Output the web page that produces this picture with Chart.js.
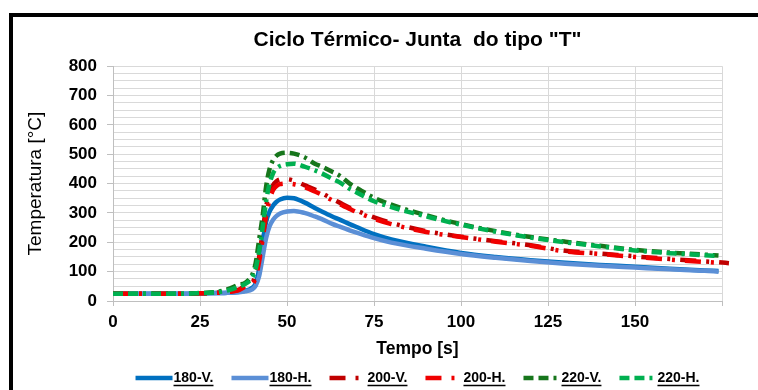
<!DOCTYPE html>
<html>
<head>
<meta charset="utf-8">
<title>Ciclo Térmico - Junta do tipo T</title>
<script src="https://cdn.jsdelivr.net/npm/chart.js@4.4.1/dist/chart.umd.min.js"></script>
<style>
    body { margin: 0; background: #fff; overflow: hidden; }
    .moldura { position: absolute; left: 9px; top: 13px; width: 820px; height: 440px; border: 4px solid #000; box-sizing: border-box; }
    .grafico { position: absolute; left: 0; top: 0; width: 758px; height: 390px; }
</style>
</head>
<body>
<div class="moldura"></div>
<div class="grafico"><canvas id="cicloTermicoChart"></canvas></div>
<script>
// tempo [s] e temperatura [°C] de cada termopar
var tempo = [0, 5, 10, 15, 20, 25, 30, 33, 36, 38, 40, 41, 42, 43, 44, 45, 46, 47, 48, 50,
    52, 55, 58, 60, 63, 65, 68, 70, 75, 80, 90, 100, 110, 120, 130, 140, 150, 160, 170, 174, 177];

var t180V = [25, 25, 25, 25, 25, 26, 27, 28, 31, 35, 45, 60, 110, 200, 270, 305, 325, 338, 346, 352,
    350, 336, 317, 305, 288, 278, 262, 252, 228, 210, 185, 164, 150, 139, 130, 123, 117, 110, 104, 102, null];
var t180H = [25, 25, 25, 25, 25, 26, 27, 28, 30, 33, 40, 52, 85, 150, 215, 255, 277, 290, 298, 305,
    307, 300, 288, 279, 263, 254, 241, 233, 214, 199, 178, 160, 147, 136, 127, 120, 114, 108, 103, 100, null];
var t200V = [25, 25, 25, 25, 25, 26, 28, 31, 38, 52, 62, 90, 150, 235, 320, 370, 395, 408, 414, 415,
    410, 395, 380, 368, 348, 336, 318, 308, 285, 266, 238, 219, 204, 190, 171, 162, 152, 143, 135, 132, 129];
var t200H = [25, 25, 25, 25, 25, 26, 28, 31, 36, 48, 56, 80, 135, 210, 290, 345, 378, 392, 398, 400,
    398, 388, 373, 362, 343, 331, 314, 303, 280, 262, 235, 218, 202, 188, 169, 160, 150, 141, 133, 130, null];
var t220V = [25, 25, 25, 25, 25, 27, 31, 40, 55, 62, 90, 130, 210, 290, 390, 450, 480, 495, 502, 505,
    502, 490, 468, 458, 440, 428, 400, 385, 352, 328, 292, 262, 238, 218, 202, 188, 174, 165, 158, 155, null];
var t220H = [25, 25, 25, 25, 25, 27, 30, 36, 48, 58, 80, 110, 170, 250, 340, 400, 435, 452, 460, 466,
    468, 458, 445, 435, 416, 405, 382, 370, 340, 320, 288, 260, 236, 216, 200, 186, 172, 163, 156, 153, null];

var fonte = "'Liberation Sans', Arial, sans-serif";
var traco200 = [16, 10, 3, 10];
var traco220 = [10, 5, 10, 5, 3, 5];
var larguraAmostra = 31;

function serie(nome, valores, cor, traco, ordem) {
    return {
        label: nome,
        data: tempo.map(function (t, i) { return { x: t, y: valores[i] }; }),
        borderColor: cor,
        backgroundColor: cor,
        borderWidth: 4.5,
        borderDash: traco,
        borderCapStyle: 'butt',
        pointRadius: 0,
        cubicInterpolationMode: 'monotone',
        order: ordem,
        clip: false
    };
}

// amostra tracejada de cada serie e texto sublinhado na legenda
var amostraLegenda = {
    id: 'amostraLegenda',
    afterDraw: function (chart) {
        var legenda = chart.legend;
        if (!legenda || !legenda.legendHitBoxes) return;
        var tam = legenda.options.labels.font.size;
        var ctx = chart.ctx;
        ctx.save();
        ctx.font = 'bold ' + tam + 'px ' + fonte;
        legenda.legendHitBoxes.forEach(function (caixa, i) {
            var item = legenda.legendItems[i];
            var ds = chart.data.datasets[item.datasetIndex];
            var yc = caixa.top + tam / 2;

            ctx.strokeStyle = ds.borderColor;
            ctx.lineWidth = ds.borderWidth;
            ctx.lineCap = 'butt';
            ctx.setLineDash(ds.borderDash);
            ctx.beginPath();
            ctx.moveTo(caixa.left, yc);
            ctx.lineTo(caixa.left + larguraAmostra + 6, yc);
            ctx.stroke();

            var x0 = caixa.left + larguraAmostra + tam / 2;
            var y = Math.round(yc + tam * 0.5) + 0.5;
            ctx.setLineDash([]);
            ctx.strokeStyle = '#000';
            ctx.lineWidth = 1.3;
            ctx.beginPath();
            ctx.moveTo(x0, y);
            ctx.lineTo(x0 + ctx.measureText(item.text).width, y);
            ctx.stroke();
        });
        ctx.restore();
    }
};

Chart.defaults.font.family = fonte;
Chart.defaults.color = '#000';

new Chart('cicloTermicoChart', {
    type: 'line',
    data: {
        datasets: [
            serie('180-V.', t180V, '#0070C0', [], 6),
            serie('180-H.', t180H, '#5B8FD6', [], 5),
            serie('200-V.', t200V, '#C00000', traco200, 4),
            serie('200-H.', t200H, '#F00000', traco200, 3),
            serie('220-V.', t220V, '#17761C', traco220, 2),
            serie('220-H.', t220H, '#00B050', traco220, 1)
        ]
    },
    options: {
        responsive: true,
        maintainAspectRatio: false,
        animation: false,
        layout: { padding: { left: 13, top: 17, right: 36, bottom: -5 } },
        plugins: {
            title: {
                display: true,
                fullSize: false,
                text: 'Ciclo Térmico- Junta  do tipo "T"',
                font: { size: 21, weight: 'bold' },
                padding: { top: 11, bottom: 13 }
            },
            legend: {
                position: 'bottom',
                fullSize: false,
                labels: {
                    usePointStyle: true,
                    pointStyle: 'line',
                    pointStyleWidth: larguraAmostra,
                    padding: 18,
                    font: { size: 14, weight: 'bold' },
                    sort: function (a, b) { return a.datasetIndex - b.datasetIndex; },
                    generateLabels: function (chart) {
                        var itens = Chart.defaults.plugins.legend.labels.generateLabels(chart);
                        itens.forEach(function (it) {
                            it.strokeStyle = 'rgba(0,0,0,0)';
                            it.fillStyle = 'rgba(0,0,0,0)';
                        });
                        return itens;
                    }
                }
            },
            tooltip: { enabled: false }
        },
        scales: {
            x: {
                type: 'linear',
                min: 0,
                max: 175,
                afterFit: function (scale) { scale.height = 52; },
                ticks: {
                    stepSize: 25,
                    autoSkip: false,
                    maxRotation: 0,
                    padding: 6,
                    font: { size: 17, weight: 'bold' },
                    callback: function (v) { return v < 175 ? v : ''; }
                },
                grid: { color: '#d9d9d9', tickLength: 5, tickColor: '#bfbfbf' },
                border: { color: '#bfbfbf' },
                title: {
                    display: true,
                    text: 'Tempo [s]',
                    font: { size: 17.5, weight: 'bold' },
                    padding: { top: 0, bottom: -7 }
                }
            },
            y: {
                min: 0,
                max: 800,
                afterFit: function (scale) { scale.width = 100; },
                ticks: {
                    stepSize: 25,
                    autoSkip: false,
                    padding: 10,
                    font: { size: 17, weight: 'bold' },
                    callback: function (v) { return v % 100 === 0 ? v : ''; }
                },
                grid: {
                    color: '#d9d9d9',
                    tickLength: 6,
                    tickColor: function (c) { return c.tick && c.tick.value % 100 === 0 ? '#bfbfbf' : 'rgba(0,0,0,0)'; }
                },
                border: { color: '#bfbfbf' },
                title: {
                    display: true,
                    text: 'Temperatura [°C]',
                    font: { size: 19, weight: 'normal' },
                    padding: { top: 11, bottom: 0 }
                }
            }
        }
    },
    plugins: [amostraLegenda]
});
</script>
</body>
</html>
